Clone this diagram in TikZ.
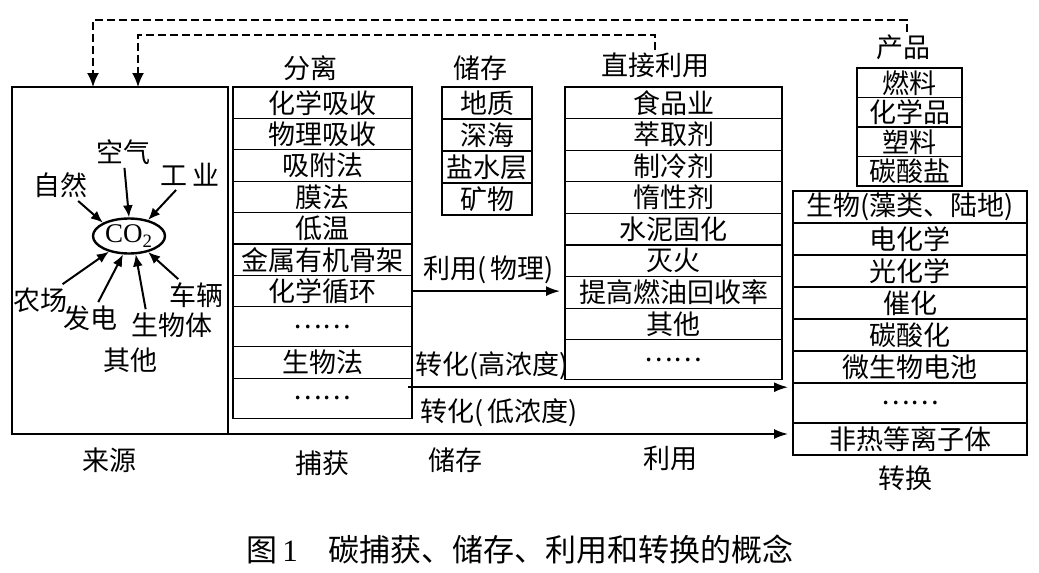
\documentclass[tikz,border=0pt]{standalone}
\usepackage{fontspec}
\setmainfont{Noto Sans CJK SC}
\newfontfamily\hei{Noto Sans CJK SC}
\newfontfamily\lat{Liberation Serif}
\usetikzlibrary{arrows.meta,positioning,shapes.geometric,calc}

\begin{document}
\begin{tikzpicture}[
  x=0.5pt,y=-0.5pt,
  >={Latex[length=7pt,width=5pt]},
  font=\fontsize{13.5}{15}\selectfont,
  cell/.style={draw,line width=0.6pt,inner sep=0pt,outer sep=0pt,
    minimum height=15.7pt},
  capcell/.style={cell,minimum width=89.5pt},
  stocell/.style={cell,minimum width=45pt,minimum height=16pt},
  usecell/.style={cell,minimum width=108.5pt,minimum height=15.8pt},
  prodcell/.style={cell,minimum width=52.5pt,minimum height=14.75pt},
  convcell/.style={cell,minimum width=117pt,minimum height=16pt},
  dotrow/.style={minimum height=20pt},
  head/.style={inner sep=1pt},
  srclbl/.style={inner sep=1.5pt},
  feed/.style={-{Latex[length=7pt,width=6pt]},line width=1pt,
    dash pattern=on 4pt off 2pt},
  emit/.style={-{Latex[length=6pt,width=5pt]},line width=1pt},
  flow/.style={->,line width=0.9pt,shorten >=2.5pt}
]
  \useasboundingbox (0,0) rectangle (1039,573);

  % sources
  \node[draw,line width=1pt,minimum width=108pt,minimum height=173.5pt,
    inner sep=0pt,outer sep=0pt] (src) at (120,260.5) {};
  \node[draw,ellipse,line width=1.2pt,minimum width=36pt,minimum height=17.5pt,
    inner sep=0pt] (co2) at (129,236) {\lat CO\textsubscript{2}};
  \node[srclbl] (air) at (123,152) {空气};
  \node[srclbl] (ind) at (190,175) {工\,业};
  \node[srclbl] (nat) at (60,185) {自然};
  \node[srclbl] (farm) at (40,300) {农场};
  \node[srclbl] (pow) at (90,318) {发电};
  \node[srclbl] (bio) at (172,325) {生物体};
  \node[srclbl] (veh) at (196,295) {车辆};
  \node[srclbl] (oth) at (130,360) {其他};
  \draw[emit] (air) -- (co2.north);
  \draw[emit] (ind) -- (co2.40);
  \draw[emit] (nat) -- (co2.153);
  \draw[emit] (farm) -- (co2.218);
  \draw[emit] (pow) -- (co2.252);
  \draw[emit] ($(bio.north west)!0.2!(bio.north east)$) -- (co2.290);
  \draw[emit] (veh) -- (co2.320);

  % capture
  \node[head] (caphd) at (310,68) {分离};
  \node[capcell,anchor=north] (cap1) at (322.5,87) {化学吸收};
  \node[capcell,below=0pt of cap1] (cap2) {物理吸收};
  \node[capcell,below=0pt of cap2] (cap3) {吸附法};
  \node[capcell,below=0pt of cap3] (cap4) {膜法};
  \node[capcell,below=0pt of cap4] (cap5) {低温};
  \node[capcell,below=0pt of cap5] (cap6) {金属有机骨架};
  \node[capcell,below=0pt of cap6] (cap7) {化学循环};
  \node[capcell,dotrow,below=0pt of cap7] (cap8) {……};
  \node[capcell,below=0pt of cap8] (cap9) {生物法};
  \node[capcell,dotrow,below=0pt of cap9] (cap10) {……};

  % storage
  \node[head] (stohd) at (480,68) {储存};
  \node[stocell,anchor=north] (sto1) at (487,87) {地质};
  \node[stocell,below=0pt of sto1] (sto2) {深海};
  \node[stocell,below=0pt of sto2] (sto3) {盐水层};
  \node[stocell,below=0pt of sto3] (sto4) {矿物};

  % direct use
  \node[head] (usehd) at (655,65) {直接利用};
  \node[usecell,anchor=north] (use1) at (673.5,87) {食品业};
  \node[usecell,below=0pt of use1] (use2) {萃取剂};
  \node[usecell,below=0pt of use2] (use3) {制冷剂};
  \node[usecell,below=0pt of use3] (use4) {惰性剂};
  \node[usecell,below=0pt of use4] (use5) {水泥固化};
  \node[usecell,below=0pt of use5] (use6) {灭火};
  \node[usecell,below=0pt of use6] (use7) {提高燃油回收率};
  \node[usecell,below=0pt of use7] (use8) {其他};
  \node[usecell,dotrow,below=0pt of use8] (use9) {……};

  % products
  \node[head] (prodhd) at (903,47) {产品};
  \node[prodcell,anchor=north] (prod1) at (909.5,68) {燃料};
  \node[prodcell,below=0pt of prod1] (prod2) {化学品};
  \node[prodcell,below=0pt of prod2] (prod3) {塑料};
  \node[prodcell,below=0pt of prod3] (prod4) {碳酸盐};

  % conversion
  \node[convcell,anchor=north] (conv1) at (910,191) {生物(藻类、陆地)};
  \node[convcell,below=0pt of conv1] (conv2) {电化学};
  \node[convcell,below=0pt of conv2] (conv3) {光化学};
  \node[convcell,below=0pt of conv3] (conv4) {催化};
  \node[convcell,below=0pt of conv4] (conv5) {碳酸化};
  \node[convcell,below=0pt of conv5] (conv6) {微生物电池};
  \node[convcell,dotrow,below=0pt of conv6] (conv7) {……};
  \node[convcell,below=0pt of conv7] (conv8) {非热等离子体};

  % flows
  \draw[flow] (cap7.east) -- node[above]{利用(\,物理)} (cap7.east -| use7.west);
  \coordinate (hi) at ($(cap10.north east)+(-4,9)$);
  \draw[flow] (hi) -- node[above right,pos=0]{转化(高浓度)} (hi -| conv1.west);
  \draw[flow] (src.south east) -- node[above,pos=0.48]{转化(\,低浓度)}
    (src.south east -| conv8.west);

  % feedback
  \coordinate (fbout) at (93,20);
  \coordinate (fbin) at (138,35);
  \draw[feed] ([xshift=2pt]prodhd.north) |- (fbout) -- (fbout |- src.north);
  \draw[feed] (usehd.north) |- (fbin) -- (fbin |- src.north);

  % bottom labels
  \node (srclab) at (110,460) {来源};
  \node (caplab) at (322,463) {捕获};
  \node (stolab) at (455,460) {储存};
  \node (uselab) at (670,458) {利用};
  \node (convlab) at (905,478) {转换};

  \node[font=\fontsize{15.5}{18}\selectfont] (caption) at (520,550)
    {图\,{\lat 1}\quad{\hei 碳捕获、储存、利用和转换的概念}};
\end{tikzpicture}
\end{document}
